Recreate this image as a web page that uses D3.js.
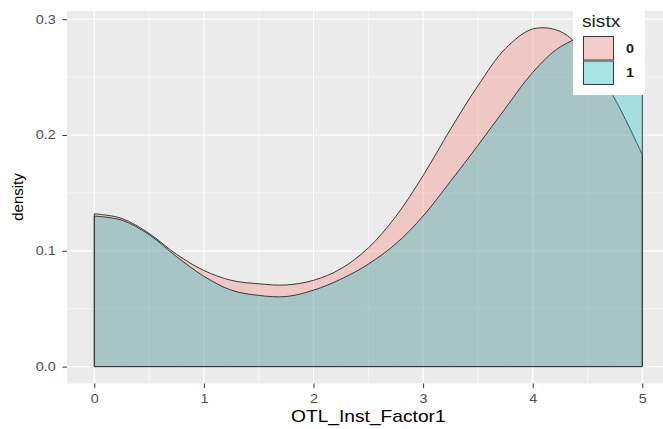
<!DOCTYPE html>
<html><head><meta charset="utf-8">
<script src="https://cdn.jsdelivr.net/npm/d3@7"></script>
<style>body{margin:0;background:#fff;overflow:hidden} text{font-family:"Liberation Sans",Arial,sans-serif}</style>
</head><body><svg id="c" width="663" height="429"></svg>
<script>
// ---- data ----
const xGrid    = [0, 0.25, 0.5, 0.75, 1, 1.25, 1.5, 1.75, 2, 2.25, 2.5, 2.75, 3, 3.25, 3.5, 3.75, 4, 4.25, 4.5, 4.75, 5];
const density0 = [0.132, 0.128, 0.115, 0.097, 0.083, 0.0745, 0.0715, 0.0705, 0.0745, 0.0845, 0.1025, 0.1295, 0.165, 0.205, 0.2425, 0.2745, 0.2915, 0.2895, 0.268, 0.231, 0.183];
const density1 = [0.130, 0.1265, 0.114, 0.095, 0.078, 0.066, 0.0615, 0.0605, 0.066, 0.0755, 0.0885, 0.106, 0.130, 0.160, 0.191, 0.223, 0.254, 0.276, 0.285, 0.281, 0.268];
const groups   = ["0", "1"];
const groupColors = ["#F8766D", "#00BFC4"];
const xTicks   = [0, 1, 2, 3, 4, 5];
const yTicks   = [0, 0.1, 0.2, 0.3];
const yTickLabels = ["0.0", "0.1", "0.2", "0.3"];
const xTitle = "OTL_Inst_Factor1", yTitle = "density", legendTitle = "sistx";

// ---- scales ----
const svg = d3.select("#c");
const x = d3.scaleLinear().domain([0, 5]).range([94.3, 642.3]);
const y = d3.scaleLinear().domain([0, 0.3]).range([366.6, 19.2]);
const px0 = x(-0.25), px1 = x(5.25), py0 = y(-0.0146), py1 = y(0.3071);

// panel
svg.append("rect").attr("x", px0).attr("y", py1).attr("width", px1 - px0).attr("height", py0 - py1).attr("fill", "#EBEBEB");
const grid = svg.append("g");
const xMinor = [0.5, 1.5, 2.5, 3.5, 4.5], yMinor = [0.05, 0.15, 0.25];
grid.selectAll(".xm").data(xMinor).enter().append("line").attr("x1", d => x(d)).attr("x2", d => x(d)).attr("y1", py1).attr("y2", py0).attr("stroke", "#fff").attr("stroke-width", 0.6);
grid.selectAll(".ym").data(yMinor).enter().append("line").attr("y1", d => y(d)).attr("y2", d => y(d)).attr("x1", px0).attr("x2", px1).attr("stroke", "#fff").attr("stroke-width", 0.6);
grid.selectAll(".xM").data(xTicks).enter().append("line").attr("x1", d => x(d)).attr("x2", d => x(d)).attr("y1", py1).attr("y2", py0).attr("stroke", "#fff").attr("stroke-width", 1.2);
grid.selectAll(".yM").data(yTicks).enter().append("line").attr("y1", d => y(d)).attr("y2", d => y(d)).attr("x1", px0).attr("x2", px1).attr("stroke", "#fff").attr("stroke-width", 1.2);

// densities
const series = [density0, density1].map((vals, i) => ({ key: groups[i], color: groupColors[i], pts: xGrid.map((xv, j) => ({ x: xv, v: vals[j] })) }));
const area = d3.area().x(d => x(d.x)).y0(y(0)).y1(d => y(d.v)).curve(d3.curveCatmullRom);
svg.append("g").selectAll("path").data(series).enter().append("path")
  .attr("d", d => area(d.pts)).attr("fill", d => d.color).attr("fill-opacity", 0.3)
  .attr("stroke", "#303030").attr("stroke-width", 0.95).attr("stroke-linejoin", "round");

// axes
const ax = svg.append("g").attr("transform", `translate(0,${py0})`)
  .call(d3.axisBottom(x).tickValues(xTicks).tickFormat(d3.format("d")).tickSize(4.5).tickPadding(6.7));
const ay = svg.append("g").attr("transform", `translate(${px0},0)`)
  .call(d3.axisLeft(y).tickValues(yTicks).tickFormat((d, i) => yTickLabels[i]).tickSize(4.5).tickPadding(4.7));
[ax, ay].forEach(a => {
  a.select(".domain").remove();
  a.selectAll(".tick line").attr("stroke", "#333").attr("stroke-width", 1);
  a.selectAll(".tick text").attr("fill", "#4D4D4D").attr("font-size", 12).attr("transform", "scale(1.2,1)")
   .style("font-family", '"Liberation Sans",Arial,sans-serif');
});

function stext(g, tx, ty, s, size, opts = {}) {
  const t = g.append("g").attr("transform", `translate(${tx},${ty}) scale(1.2,1)`).append("text")
    .attr("font-size", size).attr("fill", opts.fill || "#000").attr("text-anchor", opts.anchor || "start").text(s);
  return t;
}
stext(svg, (px0 + px1) / 2, 421.5, xTitle, 16, { anchor: "middle" });
svg.append("text").attr("transform", "translate(23,197) rotate(-90)").attr("text-anchor", "middle")
  .attr("font-size", 15).attr("fill", "#000").text(yTitle);

// legend
const lg = svg.append("g");
lg.append("rect").attr("x", 573).attr("y", 0).attr("width", 72).attr("height", 95).attr("fill", "#fff");
stext(lg, 582, 27, legendTitle, 16, { fill: "#222" });
series.forEach((s, i) => {
  const ky = 36 + i * 24.5;
  lg.append("rect").attr("x", 583).attr("y", ky).attr("width", 31).attr("height", 24.5).attr("fill", "#F2F2F2");
  lg.append("rect").attr("x", 583.5).attr("y", ky + 0.5).attr("width", 30).attr("height", 23.5)
    .attr("fill", s.color).attr("fill-opacity", 0.3).attr("stroke", "#303030").attr("stroke-width", 0.95);
  stext(lg, 626, ky + 12.25 + 4.3, s.key, 12, { fill: "#1a1a1a" }).attr("font-weight", "bold");
});
</script></body></html>
